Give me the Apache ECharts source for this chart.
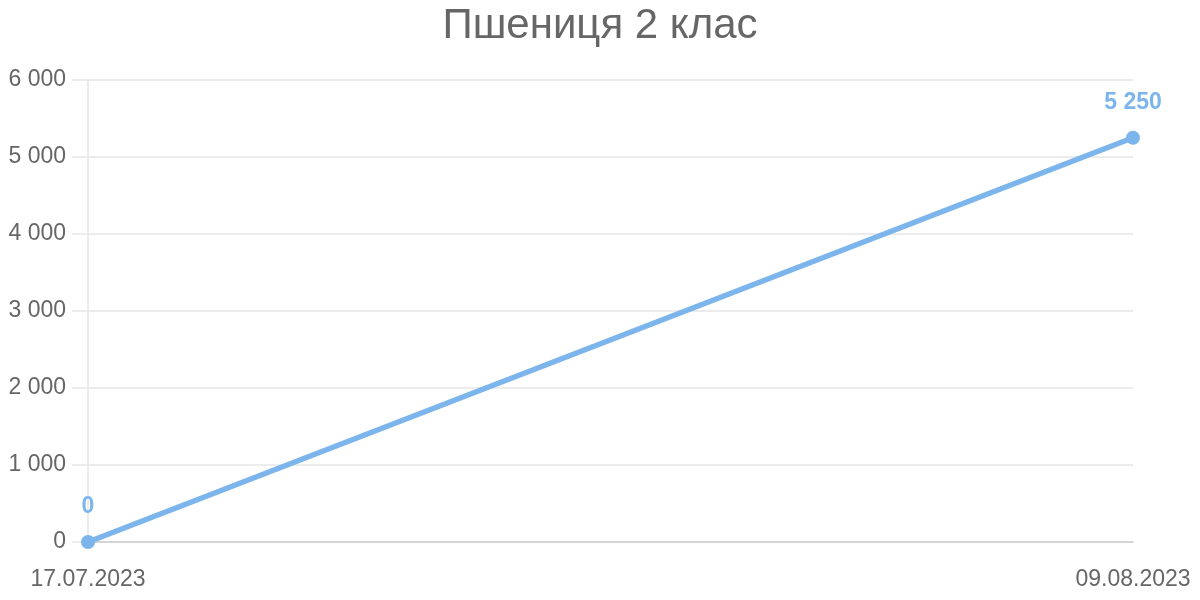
<!DOCTYPE html>
<html>
<head>
<meta charset="utf-8">
<script src="https://cdn.jsdelivr.net/npm/echarts@6/dist/echarts.min.js"></script>
<style>html,body{margin:0;padding:0;background:#fff}#c{width:1200px;height:600px}</style>
</head>
<body>
<div id="c"></div>
<script>
const titleText = 'Пшениця 2 клас';
const categories = ['17.07.2023', '09.08.2023'];
const values = [0, 5250];
const yTicks = [0, 1000, 2000, 3000, 4000, 5000, 6000];

function fmt(v) {
  return String(v).replace(/\B(?=(\d{3})+(?!\d))/g, ' ');
}
const FONT = '"Liberation Sans", Arial, Helvetica, sans-serif';
const chart = echarts.init(document.getElementById('c'), null, {renderer: 'canvas'});
chart.setOption({
  animation: false,
  backgroundColor: '#fff',
  title: {
    text: titleText, left: 'center', top: 0,
    textStyle: {fontFamily: FONT, fontSize: 42, fontWeight: 'normal', color: '#666666'}
  },
  grid: {left: 88, right: 67, top: 80, bottom: 58, containLabel: false},
  xAxis: {
    type: 'category', data: categories, boundaryGap: false,
    axisLine: {show: true, lineStyle: {color: '#cccccc', width: 1.5}},
    axisTick: {show: false},
    splitLine: {show: false},
    axisLabel: {margin: 26, fontFamily: FONT, fontSize: 23, color: '#666666', showMinLabel: true, showMaxLabel: true, interval: 0}
  },
  yAxis: {
    type: 'value', min: yTicks[0], max: yTicks[yTicks.length - 1], interval: 1000,
    axisLine: {show: true, lineStyle: {color: '#e6e6e6', width: 1.5}},
    axisTick: {show: true, length: 16, lineStyle: {color: '#e6e6e6', width: 1.5}},
    splitLine: {show: true, lineStyle: {color: '#e6e6e6', width: 1.5}},
    axisLabel: {margin: 22, fontFamily: FONT, fontSize: 23, color: '#666666', formatter: fmt}
  },
  series: [{
    type: 'line', data: values,
    lineStyle: {color: '#7cb5ec', width: 5.5},
    itemStyle: {color: '#7cb5ec'},
    symbol: 'circle', symbolSize: 14, showSymbol: true,
    label: {
      show: true, position: 'top', distance: 17,
      fontFamily: FONT, fontSize: 23, fontWeight: 'bold', color: '#7cb5ec',
      formatter: p => fmt(p.value)
    }
  }]
});
</script>
</body>
</html>
